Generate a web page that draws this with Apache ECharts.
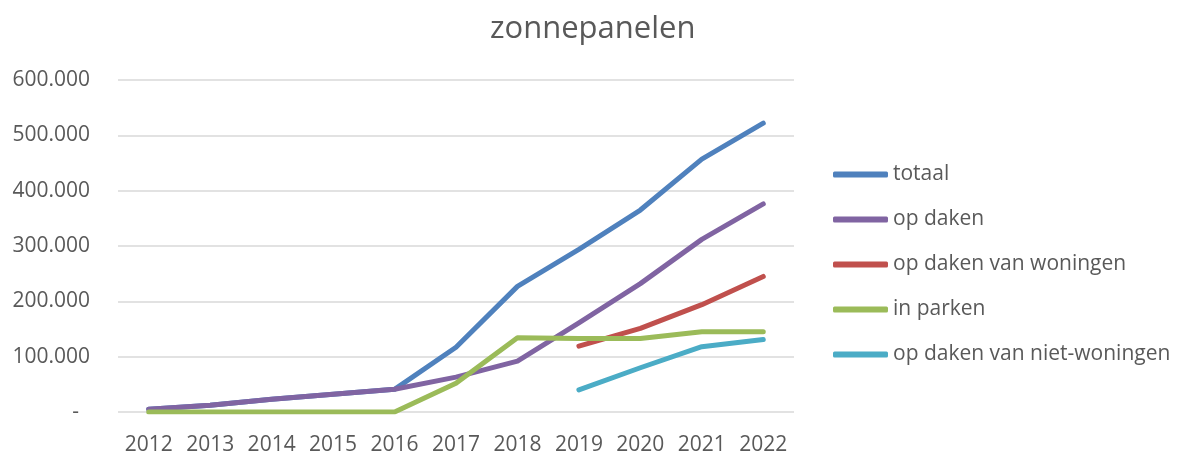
<!DOCTYPE html>
<html>
<head>
<meta charset="utf-8">
<title>zonnepanelen</title>
<script src="https://cdn.jsdelivr.net/npm/echarts@6/dist/echarts.min.js"></script>
<style>
  html, body { margin: 0; padding: 0; background: #ffffff; }
  #chart { width: 1179px; height: 455px; }
</style>
</head>
<body>
<div id="chart"></div>
<script>
// jaren op de x-as
const years = ['2012', '2013', '2014', '2015', '2016', '2017', '2018', '2019', '2020', '2021', '2022'];

// waarden
const totaal = [5000, 12000, 23000, 32000, 41000, 117000, 227000, 294000, 365000, 457000, 522000];
const opDaken = [5000, 12000, 23000, 32000, 41000, 63000, 92000, 161000, 232000, 312000, 376000];
const opDakenWoningen = [null, null, null, null, null, null, null, 119000, 151000, 194000, 245000];
const inParken = [0, 0, 0, 0, 0, 52000, 134000, 133000, 133000, 145000, 145000];
const opDakenNietWoningen = [null, null, null, null, null, null, null, 40000, 80000, 118000, 131000];

const yTicks = [0, 100000, 200000, 300000, 400000, 500000, 600000];

const fontFamily = "'Open Sans', 'Noto Sans', sans-serif";
const textColor = '#595959';

const chart = echarts.init(document.getElementById('chart'));

function fmt(v) {
    if (v === 0) return '{z|-}';
    return String(v).replace(/\B(?=(\d{3})+(?!\d))/g, '.');
}

function lineSeries(name, data, color) {
    return {
        name,
        type: 'line',
        data,
        symbol: 'none',
        connectNulls: false,
        lineStyle: { color, width: 5, cap: 'round', join: 'round' },
        itemStyle: { color },
        animation: false
    };
}

chart.setOption({
    backgroundColor: '#ffffff',
    title: {
        text: 'zonnepanelen',
        left: 485,
        top: 9,
        textStyle: { fontFamily, fontSize: 31, fontWeight: 'normal', color: textColor }
    },
    grid: { left: 118, right: 385, top: 80, bottom: 43, containLabel: false, outerBoundsMode: 'none' },
    legend: {
        orient: 'vertical',
        left: 828,
        top: 159,
        itemWidth: 55,
        itemHeight: 6,
        itemGap: 24,
        icon: 'roundRect',
        textStyle: { fontFamily, fontSize: 21, color: textColor },
        data: ['totaal', 'op daken', 'op daken van woningen', 'in parken', 'op daken van niet-woningen']
    },
    xAxis: {
        type: 'category',
        data: years,
        boundaryGap: true,
        axisLine: { show: false },
        axisTick: { show: false },
        axisLabel: { fontFamily, fontSize: 21, color: textColor, margin: 23, interval: 0 }
    },
    yAxis: {
        type: 'value',
        min: yTicks[0],
        max: yTicks[yTicks.length - 1],
        interval: yTicks[1] - yTicks[0],
        axisLine: { show: false },
        axisTick: { show: false },
        splitLine: { lineStyle: { color: '#d9d9d9', width: 1.5 } },
        axisLabel: {
            fontFamily, fontSize: 21, color: textColor, margin: 28,
            formatter: fmt,
            rich: { z: { fontFamily, fontSize: 21, color: textColor, padding: [0, 11, 0, 0] } }
        }
    },
    series: [
        lineSeries('totaal', totaal, '#4f81bd'),
        lineSeries('op daken', opDaken, '#8064a2'),
        lineSeries('op daken van woningen', opDakenWoningen, '#c0504d'),
        lineSeries('in parken', inParken, '#9bbb59'),
        lineSeries('op daken van niet-woningen', opDakenNietWoningen, '#4bacc6')
    ]
});
</script>
</body>
</html>
